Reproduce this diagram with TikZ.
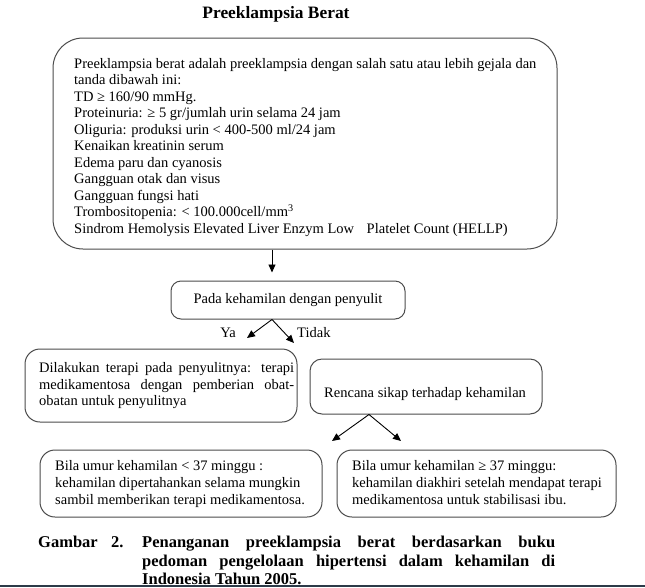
\documentclass[tikz,border=0pt]{standalone}
\usepackage{fontspec}
\setmainfont{Liberation Serif}
\usetikzlibrary{arrows.meta}

\definecolor{pita}{RGB}{44,58,72}

\tikzset{
  kotak/.style={draw=black!70, line width=1pt, rounded corners=#1, inner sep=0pt},
  kotak/.default=12pt,
  teks/.style={font=\fontsize{14.5}{16.5}\selectfont, inner sep=0pt},
  teksb/.style={font=\fontsize{14.5}{17}\selectfont, inner sep=0pt},
  kaption/.style={font=\bfseries\fontsize{16.5}{18.5}\selectfont, inner sep=0pt},
  panah/.style={-{Triangle[length=8pt,width=7pt]}, line width=0.9pt},
}

\begin{document}
\begin{tikzpicture}[x=1pt,y=-1pt]
\useasboundingbox (0,0) rectangle (645,587);
\fill[white] (0,0) rectangle (645,587);

% Judul
\node[font=\bfseries\fontsize{17.4}{20}\selectfont] (judul) at (276,14) {Preeklampsia Berat};

% Kotak utama
\node[kotak=30pt, minimum width=504pt, minimum height=211pt] (utama) at (305,143.5) {};
\node[teks, align=left, anchor=north west] (gejala) at (74,58) {%
Preeklampsia berat adalah preeklampsia dengan salah satu atau lebih gejala dan\\
tanda dibawah ini:\\
TD ≥ 160/90 mmHg.\\
Proteinuria: ≥ 5 gr/jumlah urin selama 24 jam\\
Oliguria: produksi urin < 400-500 ml/24 jam\\
Kenaikan kreatinin serum\\
Edema paru dan cyanosis\\
Gangguan otak dan visus\\
Gangguan fungsi hati\\
Trombositopenia: < 100.000cell/mm\textsuperscript{3}\\
Sindrom Hemolysis Elevated Liver Enzym Low\hspace{9pt} Platelet Count (HELLP)};

% Penyulit
\coordinate (garis) at (272,0);
\node[kotak=10pt, teks, minimum width=234pt, minimum height=38pt] (penyulit) at (288,300) {Pada kehamilan dengan penyulit};
\draw[panah, shorten >=8pt] (utama.south -| garis) -- (penyulit.north -| garis);

\coordinate (ya) at (247,338);
\coordinate (tidak) at (294,343);
\draw[panah] (penyulit.south -| garis) -- (ya);
\draw[panah] (penyulit.south -| garis) -- (tidak);
\node[teks] (lblya) at (228,333) {Ya};
\node[teks, anchor=west] (lbltidak) at (297,333) {Tidak};

% Ya
\node[kotak=15pt, minimum width=272pt, minimum height=73pt] (terapi) at (161,385.5) {};
\node[teks, text width=255pt, align=justify, anchor=north west] (terapitxt) at (39,362.6) {\noindent Dilakukan terapi pada penyulitnya: terapi\linebreak
medikamentosa dengan pemberian obat-\linebreak
obatan untuk penyulitnya};

% Tidak
\node[kotak=12pt, minimum width=232pt, minimum height=55pt] (sikap) at (426,386.5) {};
\node[teks, anchor=base west] (sikaptxt) at (324,397.5) {Rencana sikap terhadap kehamilan};

\coordinate (cabang) at (369,0);
\coordinate (kiri) at (332,441);
\coordinate (kanan) at (401,441);
\draw[panah] (sikap.south -| cabang) -- (kiri);
\draw[panah] (sikap.south -| cabang) -- (kanan);

% Umur kehamilan
\node[kotak=15pt, minimum width=282pt, minimum height=67pt] (kurang) at (181,483.5) {};
\node[teksb, align=left, anchor=north west] (kurangtxt) at (55,460.6) {%
Bila umur kehamilan < 37 minggu :\\
kehamilan dipertahankan selama mungkin\\
sambil memberikan terapi medikamentosa.};

\node[kotak=15pt, minimum width=279pt, minimum height=67pt] (lebih) at (476.5,483.5) {};
\node[teksb, align=left, anchor=north west] (lebihtxt) at (352,460.6) {%
Bila umur kehamilan ≥ 37 minggu:\\
kehamilan diakhiri setelah mendapat terapi\\
medikamentosa untuk stabilisasi ibu.};

% Keterangan gambar
\node[kaption, anchor=base west] (gambar) at (38,547.5) {Gambar};
\node[kaption, anchor=base west] (nomor) at (111,547.5) {2.};
\node[kaption, text width=413pt, align=justify, anchor=north west] (ket) at (142,536.2) {\noindent Penanganan preeklampsia berat berdasarkan buku\linebreak
pedoman pengelolaan hipertensi dalam kehamilan di\linebreak
Indonesia Tahun 2005.};

\fill[pita] (0,585) rectangle (645,587);
\end{tikzpicture}
\end{document}
